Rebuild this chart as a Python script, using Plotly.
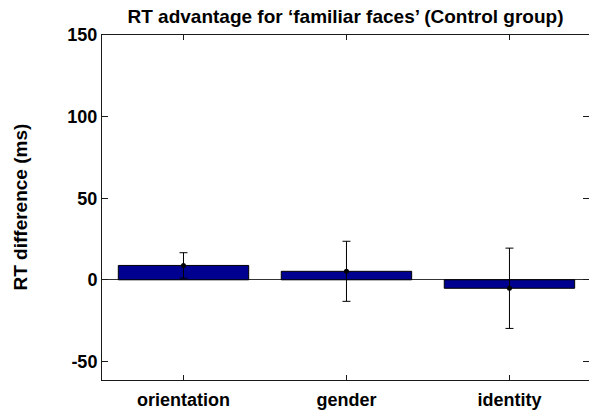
import plotly.graph_objects as go

# Mean RT advantage per task and its error (ms)
conditions = ["orientation", "gender", "identity"]
rt_difference = [8.8, 5.2, -5.2]
rt_error = [7.8, 18.4, 24.6]
y_ticks = [-50, 0, 50, 100, 150]
y_tick_labels = ["-50", "0", "50", "100", "150"]

font_family = "Arial, Liberation Sans, sans-serif"
axis_color = "#1a1a1a"
x_pos = [1, 2, 3]

W, H = 589, 411
M_L, M_R, M_T, M_B = 102, 0, 35, 31

fig = go.Figure()

fig.add_trace(go.Bar(
    x=x_pos,
    y=rt_difference,
    width=0.8,
    marker=dict(color="#000090", line=dict(color="#000000", width=1)),
    showlegend=False,
))

fig.add_trace(go.Scatter(
    x=x_pos,
    y=rt_difference,
    mode="markers",
    marker=dict(color="#000000", size=5),
    error_y=dict(type="data", array=rt_error, symmetric=True,
                 color="#000000", thickness=1, width=4),
    showlegend=False,
))

# Invisible trace on a right-side axis to carry the right-hand ticks
fig.add_trace(go.Scatter(x=[1], y=[0], yaxis="y2", mode="markers",
                         marker=dict(opacity=0), showlegend=False,
                         hoverinfo="skip"))

tick_font = dict(family=font_family, size=18, color="#000000", weight="bold")

fig.update_layout(
    width=W,
    height=H,
    margin=dict(l=M_L, r=M_R, t=M_T, b=M_B),
    paper_bgcolor="white",
    plot_bgcolor="white",
    title=dict(
        text="RT advantage for \u2018familiar faces\u2019 (Control group)",
        font=dict(family=font_family, size=19, color="#000000", weight="bold"),
        x=0.5, xref="paper", xanchor="center",
        y=1 - 16 / H, yref="container", yanchor="middle",
    ),
    xaxis=dict(
        range=[0.5, 3.488],
        tickvals=x_pos,
        ticktext=conditions,
        tickfont=tick_font,
        ticks="inside",
        ticklen=5,
        tickcolor=axis_color,
        ticklabelstandoff=3,
        showline=True,
        linecolor=axis_color,
        linewidth=1,
        mirror="ticks",
        showgrid=False,
        zeroline=False,
    ),
    yaxis=dict(
        range=[-61.4, 150],
        tickvals=y_ticks,
        ticktext=y_tick_labels,
        tickfont=tick_font,
        ticks="inside",
        ticklen=6,
        tickcolor=axis_color,
        showline=True,
        linecolor=axis_color,
        linewidth=1,
        mirror=False,
        showgrid=False,
        zeroline=True,
        zerolinecolor="#333333",
        zerolinewidth=1,
    ),
    yaxis2=dict(
        overlaying="y",
        side="right",
        range=[-61.4, 150],
        tickvals=y_ticks,
        showticklabels=False,
        ticks="inside",
        ticklen=6,
        tickcolor=axis_color,
        showline=False,
        showgrid=False,
        zeroline=False,
    ),
    annotations=[dict(
        text="RT difference (ms)",
        textangle=-90,
        xref="paper", yref="paper",
        x=(20 - M_L) / (W - M_L - M_R), y=0.5,
        xanchor="center", yanchor="middle",
        showarrow=False,
        font=dict(family=font_family, size=19, color="#000000", weight="bold"),
    )],
)

fig.write_html("out.html")
